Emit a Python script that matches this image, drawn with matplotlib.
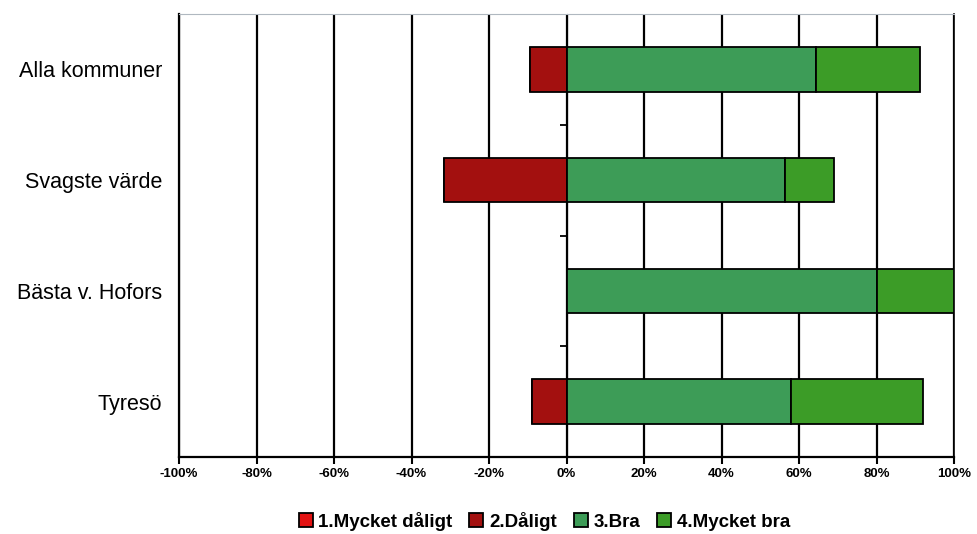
import numpy as np
import matplotlib.pyplot as plt
from matplotlib.ticker import FuncFormatter

plt.rcParams['font.family'] = ['Liberation Sans', 'DejaVu Sans']

# categories, bottom to top
categories = ['Tyresö', 'Bästa v. Hofors', 'Svagste värde', 'Alla kommuner']

# share of answers in percent (negative side drawn leftwards from 0)
mycket_daligt = [0, 0, 0, 0]
daligt = [9, 0, 31.5, 9.3]
bra = [58, 80, 56.5, 64.3]
mycket_bra = [34, 20, 12.5, 26.8]

series_names = ['1.Mycket dåligt', '2.Dåligt', '3.Bra', '4.Mycket bra']
series_colors = ['#e31212', '#a3100f', '#3d9c57', '#3c9c27']

fig = plt.figure(figsize=(9.77, 5.34), dpi=100)
ax = fig.add_axes([179/977, 1 - 457/534, (954 - 179)/977, (457 - 14)/534])

y = np.arange(len(categories))
h = 0.4
edge = dict(edgecolor='black', linewidth=1.3, height=h, zorder=3)

neg2 = -np.array(daligt)
b1 = ax.barh(y, -np.array(mycket_daligt), left=neg2, color=series_colors[0],
             label=series_names[0], **edge)
b2 = ax.barh(y, neg2, left=0, color=series_colors[1], label=series_names[1], **edge)
b3 = ax.barh(y, bra, left=0, color=series_colors[2], label=series_names[2], **edge)
b4 = ax.barh(y, mycket_bra, left=bra, color=series_colors[3],
             label=series_names[3], **edge)

ax.set_xlim(-100, 100)
ax.set_ylim(-0.5, 3.5)
ax.set_xticks(np.arange(-100, 101, 20))
ax.xaxis.set_major_formatter(FuncFormatter(lambda v, p: '%d%%' % v))
ax.grid(axis='x', color='black', linewidth=1.6, zorder=1)
ax.set_axisbelow(True)
ax.tick_params(axis='x', length=5, width=1.5, labelsize=9.5, pad=3)
for lbl in ax.get_xticklabels():
    lbl.set_fontweight('bold')

ax.set_yticks(y)
ax.set_yticklabels(categories, fontsize=15.5)
ax.tick_params(axis='y', length=0, pad=12)

for s in ['left', 'bottom']:
    ax.spines[s].set_linewidth(1.6)
ax.spines['top'].set_color('#b0b8c0')
ax.spines['top'].set_linewidth(0.8)
ax.spines['right'].set_linewidth(1.2)

# vertical axis through 0 with ticks between categories
sec = ax.secondary_yaxis(0.5)
sec.set_yticks(y[:-1] + 0.5)
sec.set_yticklabels([])
sec.tick_params(length=5, width=1.3, direction='in')
sec.spines['left'].set_linewidth(1.6)

leg = fig.legend(handles=[b1, b2, b3, b4], loc='center', ncol=4,
                 bbox_to_anchor=(0.557, 0.024), frameon=False,
                 handlelength=0.75, handleheight=0.75, handletextpad=0.3,
                 columnspacing=0.9, prop={'size': 13.5, 'weight': 'bold'})

fig.savefig('out.png', dpi=100, facecolor='white')
